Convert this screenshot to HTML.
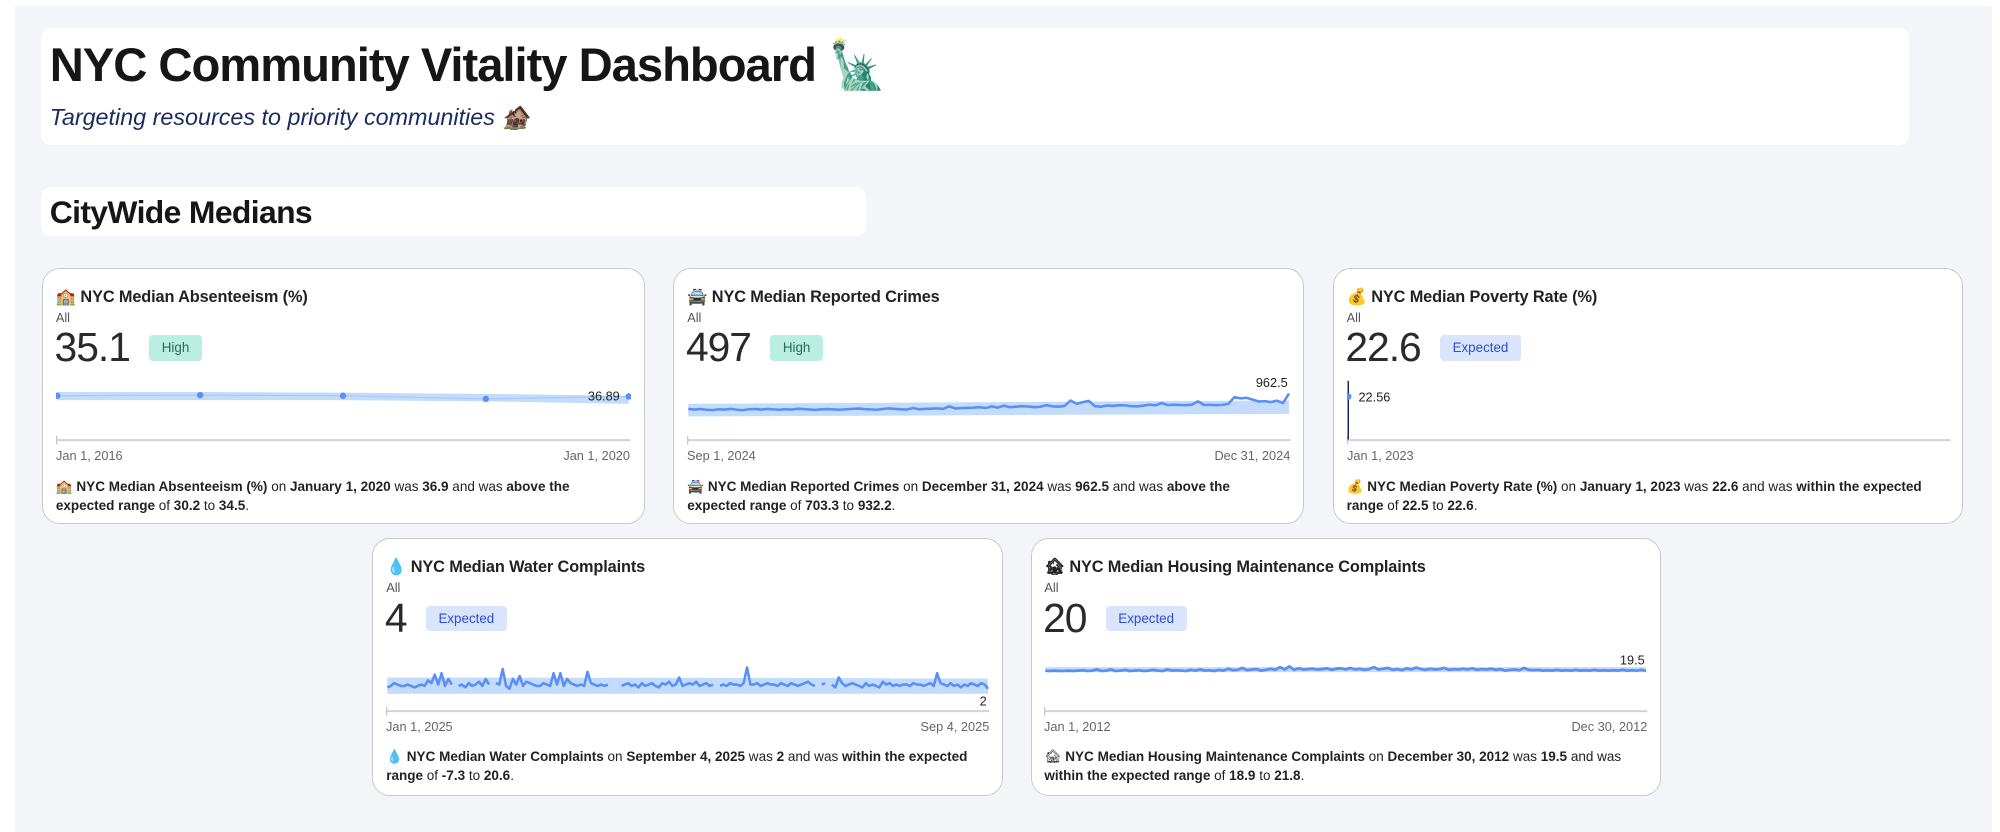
<!DOCTYPE html>
<html><head><meta charset="utf-8"><title>NYC Community Vitality Dashboard</title>
<style>
html,body{margin:0;padding:0;background:#fff;}
body{width:2000px;height:832px;overflow:hidden;font-family:"Liberation Sans","Noto Sans CJK JP",sans-serif;color:#1b1b1b;}
#wrap{position:relative;width:1568px;height:652px;zoom:1.27551;}
#bg{position:absolute;left:12px;top:5px;width:1550px;height:647px;background:#f4f5f9;}
.box{position:absolute;background:#fff;border-radius:8px;}
.card{position:absolute;background:#fff;border:1.5px solid #c9c9cc;border-radius:14px;box-sizing:border-box;}
.ctitle{position:absolute;left:10px;top:14px;font-size:12.8px;font-weight:600;color:#222;white-space:nowrap;letter-spacing:-0.1px;}
.call{position:absolute;left:10px;top:32px;font-size:10px;color:#555;}
.crow{position:absolute;left:9px;top:42px;display:flex;align-items:center;}
.cnum{font-size:32px;color:#2a2a2a;line-height:40px;letter-spacing:-0.8px;}
.badge{margin-left:15px;height:20px;line-height:20px;padding:0 10px;font-size:10.5px;border-radius:3px;}
.high{background:#b8efe0;color:#2c6a58;}
.exp{background:#dae5fd;color:#2c4fcf;}
.chart{position:absolute;left:10px;top:85px;}
.desc{position:absolute;left:10px;top:164px;font-size:10.6px;line-height:14.5px;color:#222;}
.desc b{font-weight:700;}
</style></head>
<body>
<div id="wrap">
<div id="bg"></div>
<div class="box" style="left:32px;top:22px;width:1465px;height:92px;">
  <div style="position:absolute;left:7px;top:7px;font-size:37px;font-weight:700;color:#161616;letter-spacing:-0.8px;white-space:nowrap;">NYC Community Vitality Dashboard 🗽</div>
  <div style="position:absolute;left:7px;top:59px;font-size:18.3px;font-style:italic;color:#1b2b5e;white-space:nowrap;">Targeting resources to priority communities 🏚️</div>
</div>
<div class="box" style="left:32px;top:147px;width:647px;height:38px;">
  <div style="position:absolute;left:7px;top:5px;font-size:25px;font-weight:700;color:#161616;letter-spacing:-0.5px;white-space:nowrap;">CityWide Medians</div>
</div>

<div class="card" style="left:33px;top:210px;width:473px;height:201px;">
  <div class="ctitle">🏫 NYC Median Absenteeism (%)</div>
  <div class="call">All</div>
  <div class="crow"><span class="cnum">35.1</span><span class="badge high">High</span></div>
  <svg class="chart" id="c1" width="451" height="72"></svg>
  <div class="desc" style="width:430px">🏫 <b>NYC Median Absenteeism (%)</b> on <b>January 1, 2020</b> was <b>36.9</b> and was <b>above the expected range</b> of <b>30.2</b> to <b>34.5</b>.</div>
</div>

<div class="card" style="left:528px;top:210px;width:494px;height:201px;">
  <div class="ctitle">🚔 NYC Median Reported Crimes</div>
  <div class="call">All</div>
  <div class="crow"><span class="cnum">497</span><span class="badge high">High</span></div>
  <svg class="chart" id="c2" width="474" height="72"></svg>
  <div class="desc" style="width:460px">🚔 <b>NYC Median Reported Crimes</b> on <b>December 31, 2024</b> was <b>962.5</b> and was <b>above the expected range</b> of <b>703.3</b> to <b>932.2</b>.</div>
</div>

<div class="card" style="left:1045px;top:210px;width:494px;height:201px;">
  <div class="ctitle">💰 NYC Median Poverty Rate (%)</div>
  <div class="call">All</div>
  <div class="crow"><span class="cnum">22.6</span><span class="badge exp">Expected</span></div>
  <svg class="chart" id="c3" width="474" height="72"></svg>
  <div class="desc" style="width:470px">💰 <b>NYC Median Poverty Rate (%)</b> on <b>January 1, 2023</b> was <b>22.6</b> and was <b>within the expected range</b> of <b>22.5</b> to <b>22.6</b>.</div>
</div>

<div class="card" style="left:292px;top:422px;width:494px;height:202px;">
  <div class="ctitle">💧 NYC Median Water Complaints</div>
  <div class="call">All</div>
  <div class="crow"><span class="cnum">4</span><span class="badge exp">Expected</span></div>
  <svg class="chart" id="c4" width="474" height="72"></svg>
  <div class="desc" style="width:470px">💧 <b>NYC Median Water Complaints</b> on <b>September 4, 2025</b> was <b>2</b> and was <b>within the expected range</b> of <b>-7.3</b> to <b>20.6</b>.</div>
</div>

<div class="card" style="left:808px;top:422px;width:494px;height:202px;">
  <div class="ctitle">🏚 NYC Median Housing Maintenance Complaints</div>
  <div class="call">All</div>
  <div class="crow"><span class="cnum">20</span><span class="badge exp">Expected</span></div>
  <svg class="chart" id="c5" width="474" height="72"></svg>
  <div class="desc" style="width:460px">🏚 <b>NYC Median Housing Maintenance Complaints</b> on <b>December 30, 2012</b> was <b>19.5</b> and was <b>within the expected range</b> of <b>18.9</b> to <b>21.8</b>.</div>
</div>
</div>

<script>
const absValues = [37.0, 37.1, 37.0, 36.5, 36.89];
const absBandLo = [36.3, 36.3, 36.3, 36.1, 35.7];
const absBandHi = [37.6, 37.6, 37.5, 37.3, 37.0];
const absTicks = ["Jan 1, 2016", "Jan 1, 2020"];

const crimeValues = [780,772,778,770,765,775,772,780,770,764,776,778,772,780,774,770,776,772,782,778,772,768,775,778,773,770,776,780,784,778,774,770,778,786,780,775,772,790,776,780,782,786,780,810,785,790,792,795,800,790,810,795,818,800,806,812,808,800,805,825,810,806,815,880,840,860,875,812,805,820,815,824,822,812,810,818,830,822,850,825,830,826,825,830,870,826,828,824,828,840,920,905,912,890,868,872,860,878,850,962.5];
const crimeBandLo = [690, 720];
const crimeBandHi = [840, 880];
const crimeTicks = ["Sep 1, 2024", "Dec 31, 2024"];

const povValues = [22.56];
const povTicks = ["Jan 1, 2023"];

const waterValues = [3,4,6,5,4,4,5,4,3,4,5,4,8,6,12,5,13,4,9,5,null,4,5,3,6,4,5,7,4,9,5,null,6,5,16,4,2,9,5,11,4,7,6,5,4,4,6,5,4,13,5,13,4,9,6,5,4,5,4,14,6,5,4,5,4,5,null,5,null,4,5,6,4,5,3,6,4,5,6,4,3,6,5,7,4,5,10,4,5,6,5,7,4,5,6,4,5,null,4,5,4,6,5,5,4,6,17,5,5,6,4,5,6,5,5,4,6,5,4,6,5,4,5,6,7,5,4,null,5,6,null,5,3,10,6,4,5,6,5,4,3,6,4,5,4,3,7,5,6,4,5,4,5,5,4,6,5,5,4,5,6,4,13,6,5,4,6,4,5,3,5,4,6,5,4,6,5,2];
const waterBandLo = [-1.5, -1.5];
const waterBandHi = [10, 9.5];
const waterTicks = ["Jan 1, 2025", "Sep 4, 2025"];

const housingValues = [19.6,19.5,19.6,19.5,19.5,19.6,19.5,19.6,19.7,19.5,19.6,19.9,19.5,19.6,19.9,19.5,19.6,19.8,19.5,19.6,19.7,19.5,19.6,19.8,19.6,19.5,19.9,19.6,19.7,19.6,19.5,19.8,19.6,19.9,19.6,19.7,19.5,19.8,19.6,20.1,19.7,19.8,20.3,19.7,19.9,20.0,19.6,19.8,20.1,19.8,20.5,19.9,20.7,19.8,20.2,19.9,20.0,20.1,19.9,20.0,20.2,19.8,20.1,20.2,19.9,20.3,19.9,20.1,19.8,20.0,20.5,19.9,20.1,20.3,19.8,20.0,19.7,20.2,19.9,20.4,20.0,19.8,20.1,19.9,20.0,20.3,19.8,20.0,19.9,20.1,19.9,20.2,19.8,20.0,19.9,20.1,19.8,20.0,19.6,19.8,19.9,19.7,20.3,19.8,19.7,19.8,19.6,19.7,19.6,19.8,19.6,19.7,19.6,19.8,19.6,19.7,19.6,19.8,19.6,19.7,19.6,19.7,19.6,19.8,19.6,19.7,19.6,19.8,19.5];
const housingBandLo = [19.2, 19.2];
const housingBandHi = [20.5, 20.5];
const housingTicks = ["Jan 1, 2012", "Dec 30, 2012"];

const NS = "http://www.w3.org/2000/svg";
function mk(tag, attrs, parent) {
  const e = document.createElementNS(NS, tag);
  for (const k in attrs) e.setAttribute(k, attrs[k]);
  parent.appendChild(e);
  return e;
}

function drawChart(id, values, bandLo, bandHi, dom, ticks, labelText, labelPos, opts) {
  const svg = document.getElementById(id);
  const W = +svg.getAttribute("width") - 1;
  const plotB = 49;
  const n = values.length;
  const x = i => n > 1 ? 1 + i / (n - 1) * (W - 2) : 1;
  const y = v => plotB - (v - dom[0]) / (dom[1] - dom[0]) * plotB;
  const bx = i => bandLo.length > 1 ? 1 + i / (bandLo.length - 1) * (W - 2) : 1;
  if (bandLo.length > 1) {
    let d = "";
    bandHi.forEach((v, i) => { d += (i ? "L" : "M") + bx(i) + "," + y(v); });
    for (let i = bandLo.length - 1; i >= 0; i--) d += "L" + bx(i) + "," + y(bandLo[i]);
    const band = mk("path", {d: d + "Z", fill: "#c4dcfb"}, svg);
    
    
  }
  const ax = mk("line", {x1: 0.5, x2: W, y1: plotB + 0.5, y2: plotB + 0.5, stroke: "#d2d2d2", "stroke-width": 1.5}, svg);
  
  
  const tk = mk("line", {x1: 0.5, x2: 0.5, y1: plotB - 3, y2: plotB + 4, stroke: "#c8c8c8", "stroke-width": 1}, svg);
  
  
  if (opts.yAxis) {
    const ya = mk("line", {x1: 1, x2: 1, y1: 3, y2: plotB, stroke: "#1e2a5a", "stroke-width": 1.2}, svg);
    
    
  }
  let d = "", pen = false;
  values.forEach((v, i) => {
    if (v === null) { pen = false; return; }
    d += (pen ? "L" : "M") + x(i).toFixed(2) + "," + y(v).toFixed(2);
    pen = true;
  });
  const ln = mk("path", {d: d, fill: "none", stroke: opts.lineColor || "#5b8ff6", "stroke-width": opts.sw || 2, "stroke-linejoin": "round"}, svg);
  
  
  if (opts.dots) {
    values.forEach((v, i) => {
      const c = mk("circle", {cx: x(i), cy: y(v), r: 2.5, fill: "#5b8ff6"}, svg);
      
      
    });
  }
  const lv = values[n - 1];
  const lx = labelPos === "right" ? x(n - 1) + 8 : x(n - 1) - (opts.dots ? 7 : 1);
  const ly = labelPos === "below" ? y(lv) + 13 : (labelPos === "right" ? y(lv) + 4 : (opts.dots ? y(lv) + 3 : y(lv) - 5));
  const lt = mk("text", {x: lx, y: ly, "font-size": 10, fill: "#222", "text-anchor": labelPos === "right" ? "start" : "end", "font-family": "Liberation Sans, sans-serif"}, svg);
  lt.textContent = labelText;
  
  
  ticks.forEach((t, i) => {
    const tt = mk("text", {x: i === 0 ? 0 : W, y: 65, "font-size": 10, fill: "#666", "text-anchor": i === 0 ? "start" : "end", "font-family": "Liberation Sans, sans-serif"}, svg);
    tt.textContent = t;
    
    
  });
}

drawChart("c1", absValues, absBandLo, absBandHi, [30, 40], absTicks, "36.89", "above", {dots: true, sw: 1, lineColor: "#a9c9fa"});
drawChart("c2", crimeValues, crimeBandLo, crimeBandHi, [415, 1160], crimeTicks, "962.5", "above", {sw: 2});
drawChart("c3", povValues, [], [], [0, 32.8], povTicks, "22.56", "right", {yAxis: true, dots: true});
drawChart("c4", waterValues, waterBandLo, waterBandHi, [-13.3, 30.8], waterTicks, "2", "below", {sw: 2});
drawChart("c5", housingValues, housingBandLo, housingBandHi, [9.2, 25.5], housingTicks, "19.5", "above", {sw: 2.2});
</script>
</body></html>
